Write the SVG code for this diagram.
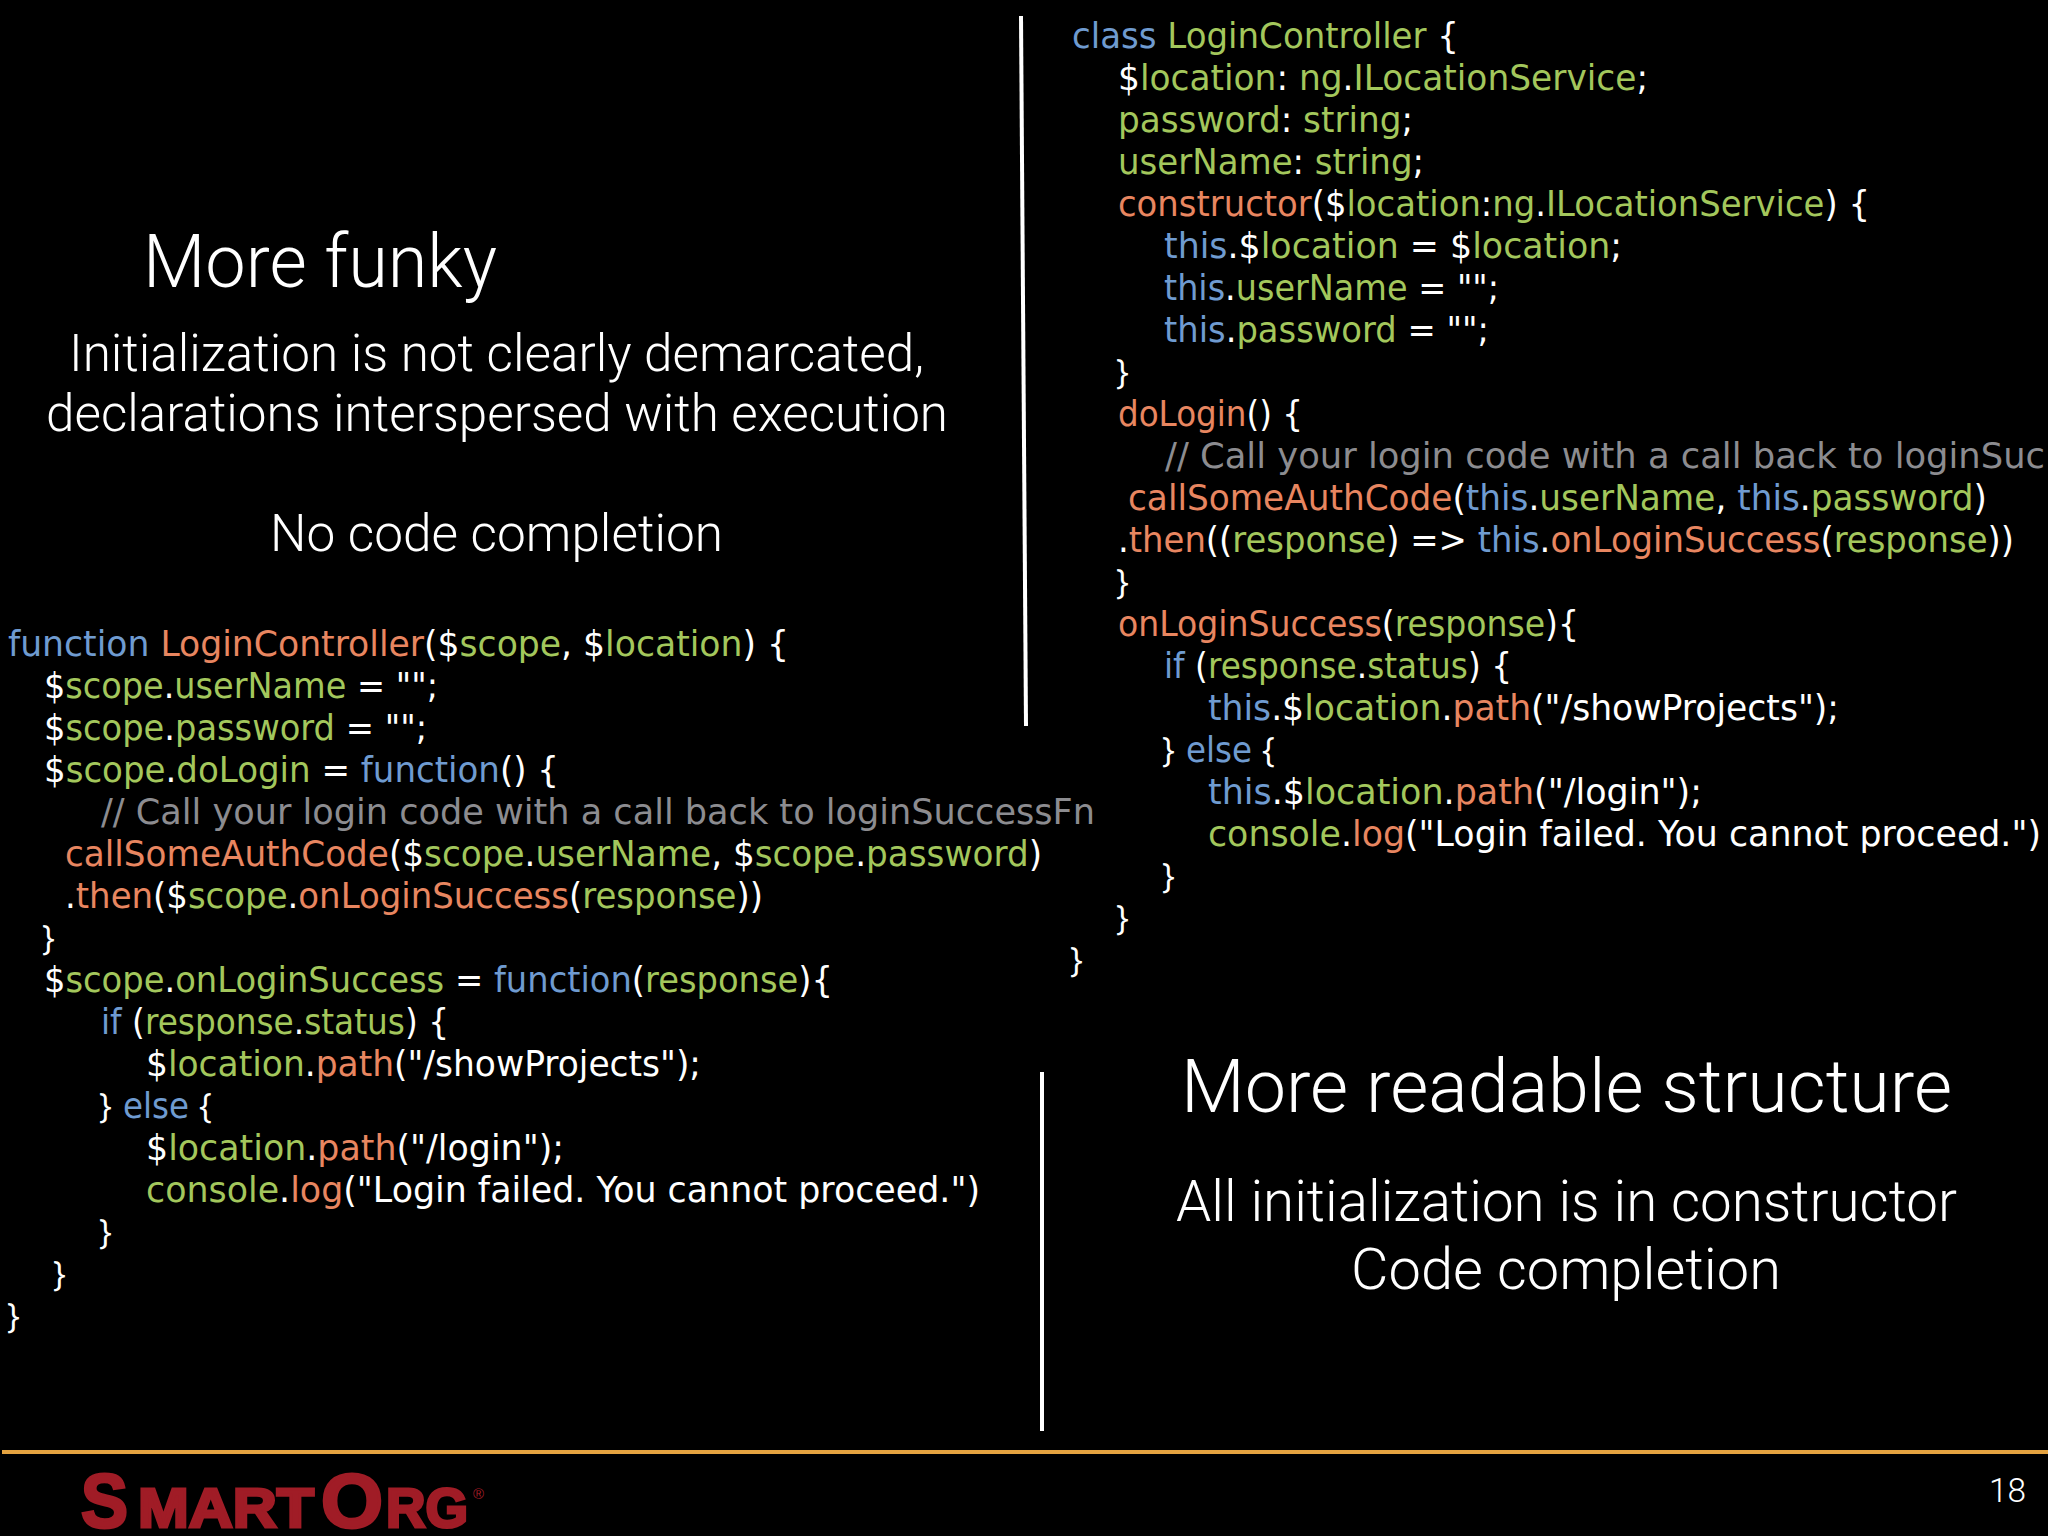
<svg xmlns="http://www.w3.org/2000/svg" width="2048" height="1536" viewBox="0 0 2048 1536">
<style>
.c{font-family:"DejaVu Sans","Open Sans",sans-serif;font-size:36px;fill:#fff;white-space:pre}
.p{font-family:"Open Sans","DejaVu Sans",sans-serif;font-size:34px;fill:#fff}
.b{fill:#6f9bd0}.o{fill:#e88660}.g{fill:#a3c75c}.m{fill:#8c8c90}
.h{font-family:Roboto,"Liberation Sans",sans-serif;font-weight:300;fill:#fff}
.l{stroke:#fff;stroke-width:4;fill:none}
.r{font-family:"Liberation Sans",Arial,sans-serif;font-weight:700;fill:#a01c26;stroke:#a01c26;stroke-width:3}
</style>
<rect width="2048" height="1536" fill="#000"/>
<g id="rules">
<line class="l" x1="1021" y1="16" x2="1026" y2="726"/>
<line class="l" x1="1042" y1="1072" x2="1042" y2="1431"/>
<line x1="2" y1="1452" x2="2048" y2="1452" stroke="#e5a340" stroke-width="4"/>
</g>
<g id="headings">
<text class="h" x="143" y="287" font-size="74" textLength="354" lengthAdjust="spacingAndGlyphs">More funky</text>
<text class="h" x="69" y="371" font-size="52" textLength="855" lengthAdjust="spacingAndGlyphs">Initialization is not clearly demarcated,</text>
<text class="h" x="46" y="431" font-size="52" textLength="902" lengthAdjust="spacingAndGlyphs">declarations interspersed with execution</text>
<text class="h" x="270" y="551" font-size="52" textLength="453" lengthAdjust="spacingAndGlyphs">No code completion</text>
<text class="h" x="1181" y="1112" font-size="74" textLength="771" lengthAdjust="spacingAndGlyphs">More readable structure</text>
<text class="h" x="1176" y="1221" font-size="58" textLength="781" lengthAdjust="spacingAndGlyphs">All initialization is in constructor</text>
<text class="h" x="1351" y="1289" font-size="58" textLength="430" lengthAdjust="spacingAndGlyphs">Code completion</text>
<text class="h" x="1989" y="1502" font-size="33" textLength="37" lengthAdjust="spacingAndGlyphs">18</text>
</g>
<g id="code-left">
<text class="c" x="8" y="656" textLength="781" lengthAdjust="spacingAndGlyphs"><tspan class="b">function</tspan> <tspan class="o">LoginController</tspan>($<tspan class="g">scope</tspan>, $<tspan class="g">location</tspan>) {</text>
<text class="c" x="44" y="698" textLength="394" lengthAdjust="spacingAndGlyphs">$<tspan class="g">scope</tspan>.<tspan class="g">userName</tspan> = "";</text>
<text class="c" x="44" y="740" textLength="383" lengthAdjust="spacingAndGlyphs">$<tspan class="g">scope</tspan>.<tspan class="g">password</tspan> = "";</text>
<text class="c" x="44" y="782" textLength="515" lengthAdjust="spacingAndGlyphs">$<tspan class="g">scope</tspan>.<tspan class="g">doLogin</tspan> = <tspan class="b">function</tspan>() {</text>
<text class="c m" x="101" y="824" textLength="994" lengthAdjust="spacingAndGlyphs">// Call your login code with a call back to loginSuccessFn</text>
<text class="c" x="65" y="866" textLength="977" lengthAdjust="spacingAndGlyphs"><tspan class="o">callSomeAuthCode</tspan>($<tspan class="g">scope</tspan>.<tspan class="g">userName</tspan>, $<tspan class="g">scope</tspan>.<tspan class="g">password</tspan>)</text>
<text class="c" x="65" y="908" textLength="698" lengthAdjust="spacingAndGlyphs">.<tspan class="o">then</tspan>($<tspan class="g">scope</tspan>.<tspan class="o">onLoginSuccess</tspan>(<tspan class="g">response</tspan>))</text>
<text class="p" x="42" y="950">}</text>
<text class="c" x="44" y="992" textLength="789" lengthAdjust="spacingAndGlyphs">$<tspan class="g">scope</tspan>.<tspan class="g">onLoginSuccess</tspan> = <tspan class="b">function</tspan>(<tspan class="g">response</tspan>){</text>
<text class="c" x="101" y="1034" textLength="348" lengthAdjust="spacingAndGlyphs"><tspan class="b">if</tspan> (<tspan class="g">response</tspan>.<tspan class="g">status</tspan>) {</text>
<text class="c" x="146" y="1076" textLength="555" lengthAdjust="spacingAndGlyphs">$<tspan class="g">location</tspan>.<tspan class="o">path</tspan>("/showProjects");</text>
<text class="p" x="99" y="1118">}</text>
<text class="c b" x="123" y="1118" textLength="66" lengthAdjust="spacingAndGlyphs">else</text>
<text class="p" x="199" y="1118">{</text>
<text class="c" x="146" y="1160" textLength="418" lengthAdjust="spacingAndGlyphs">$<tspan class="g">location</tspan>.<tspan class="o">path</tspan>("/login");</text>
<text class="c" x="146" y="1202" textLength="834" lengthAdjust="spacingAndGlyphs"><tspan class="g">console</tspan>.<tspan class="o">log</tspan>("Login failed. You cannot proceed.")</text>
<text class="p" x="99" y="1244">}</text>
<text class="p" x="53" y="1286">}</text>
<text class="p" x="7" y="1328">}</text>
</g>
<g id="code-right">
<text class="c" x="1072" y="48" textLength="387" lengthAdjust="spacingAndGlyphs"><tspan class="b">class</tspan> <tspan class="g">LoginController</tspan> {</text>
<text class="c" x="1118" y="90" textLength="530" lengthAdjust="spacingAndGlyphs">$<tspan class="g">location</tspan>: <tspan class="g">ng</tspan>.<tspan class="g">ILocationService</tspan>;</text>
<text class="c" x="1118" y="132" textLength="295" lengthAdjust="spacingAndGlyphs"><tspan class="g">password</tspan>: <tspan class="g">string</tspan>;</text>
<text class="c" x="1118" y="174" textLength="306" lengthAdjust="spacingAndGlyphs"><tspan class="g">userName</tspan>: <tspan class="g">string</tspan>;</text>
<text class="c" x="1118" y="216" textLength="752" lengthAdjust="spacingAndGlyphs"><tspan class="o">constructor</tspan>($<tspan class="g">location</tspan>:<tspan class="g">ng</tspan>.<tspan class="g">ILocationService</tspan>) {</text>
<text class="c" x="1164" y="258" textLength="458" lengthAdjust="spacingAndGlyphs"><tspan class="b">this</tspan>.$<tspan class="g">location</tspan> = $<tspan class="g">location</tspan>;</text>
<text class="c" x="1164" y="300" textLength="335" lengthAdjust="spacingAndGlyphs"><tspan class="b">this</tspan>.<tspan class="g">userName</tspan> = "";</text>
<text class="c" x="1164" y="342" textLength="325" lengthAdjust="spacingAndGlyphs"><tspan class="b">this</tspan>.<tspan class="g">password</tspan> = "";</text>
<text class="p" x="1116" y="384">}</text>
<text class="c" x="1118" y="426" textLength="185" lengthAdjust="spacingAndGlyphs"><tspan class="o">doLogin</tspan>() {</text>
<text class="c m" x="1165" y="468" textLength="880" lengthAdjust="spacingAndGlyphs">// Call your login code with a call back to loginSuc</text>
<text class="c" x="1128" y="510" textLength="859" lengthAdjust="spacingAndGlyphs"><tspan class="o">callSomeAuthCode</tspan>(<tspan class="b">this</tspan>.<tspan class="g">userName</tspan>, <tspan class="b">this</tspan>.<tspan class="g">password</tspan>)</text>
<text class="c" x="1118" y="552" textLength="896" lengthAdjust="spacingAndGlyphs">.<tspan class="o">then</tspan>((<tspan class="g">response</tspan>) =&gt; <tspan class="b">this</tspan>.<tspan class="o">onLoginSuccess</tspan>(<tspan class="g">response</tspan>))</text>
<text class="p" x="1116" y="594">}</text>
<text class="c" x="1118" y="636" textLength="461" lengthAdjust="spacingAndGlyphs"><tspan class="o">onLoginSuccess</tspan>(<tspan class="g">response</tspan>){</text>
<text class="c" x="1164" y="678" textLength="348" lengthAdjust="spacingAndGlyphs"><tspan class="b">if</tspan> (<tspan class="g">response</tspan>.<tspan class="g">status</tspan>) {</text>
<text class="c" x="1208" y="720" textLength="631" lengthAdjust="spacingAndGlyphs"><tspan class="b">this</tspan>.$<tspan class="g">location</tspan>.<tspan class="o">path</tspan>("/showProjects");</text>
<text class="p" x="1162" y="762">}</text>
<text class="c b" x="1186" y="762" textLength="66" lengthAdjust="spacingAndGlyphs">else</text>
<text class="p" x="1262" y="762">{</text>
<text class="c" x="1208" y="804" textLength="494" lengthAdjust="spacingAndGlyphs"><tspan class="b">this</tspan>.$<tspan class="g">location</tspan>.<tspan class="o">path</tspan>("/login");</text>
<text class="c" x="1208" y="846" textLength="833" lengthAdjust="spacingAndGlyphs"><tspan class="g">console</tspan>.<tspan class="o">log</tspan>("Login failed. You cannot proceed.")</text>
<text class="p" x="1162" y="888">}</text>
<text class="p" x="1116" y="930">}</text>
<text class="p" x="1070" y="972">}</text>
</g>
<g id="logo">
<text class="r" x="81" y="1527" font-size="76" textLength="47" lengthAdjust="spacingAndGlyphs">S</text>
<text class="r" x="138" y="1527" font-size="56" textLength="176" lengthAdjust="spacingAndGlyphs">MART</text>
<text class="r" x="321" y="1527" font-size="76" textLength="62" lengthAdjust="spacingAndGlyphs">O</text>
<text class="r" x="386" y="1527" font-size="56" textLength="82" lengthAdjust="spacingAndGlyphs">RG</text>
<text x="473" y="1499" font-family="Liberation Sans, Arial, sans-serif" font-size="15" fill="#a01c26">®</text>
</g>
</svg>
